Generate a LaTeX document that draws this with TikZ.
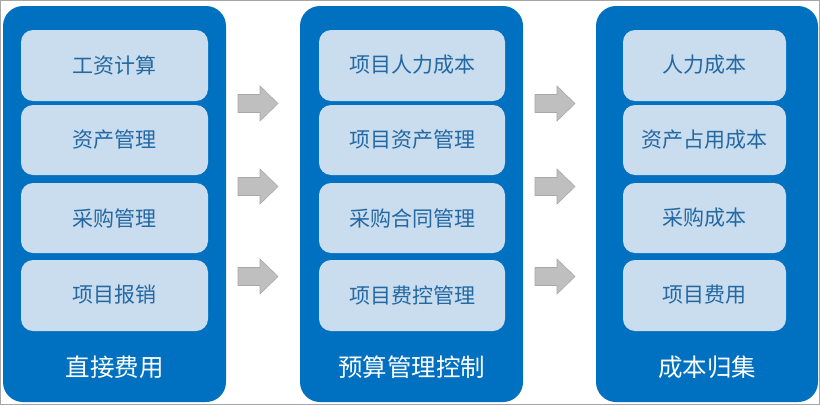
\documentclass[tikz,border=0pt]{standalone}
\usepackage{fontspec}
\setmainfont{Noto Sans CJK SC}
\begin{document}
\begin{tikzpicture}[x=1pt,y=-1pt,
  col/.style={fill=colblue,draw=none,rounded corners=20pt},
  item/.style={fill=itembg,draw=none,rounded corners=12pt},
  itemtext/.style={text=itemtxt,font=\fontsize{21}{23}\selectfont,inner sep=0pt},
  coltext/.style={text=white,font=\fontsize{24.5}{26}\selectfont,inner sep=0pt},
  blockarrow/.style={fill=arrowgray,draw=arrowedge,line width=0.6pt,line join=miter}]
\definecolor{colblue}{HTML}{0070C0}
\definecolor{itembg}{HTML}{CADDEE}
\definecolor{itemtxt}{HTML}{2368A2}
\definecolor{arrowgray}{HTML}{BFBFBF}
\definecolor{arrowedge}{HTML}{A8A8A8}
\useasboundingbox (0,0) rectangle (820,405);
\draw[draw=gray!70,line width=1pt] (0.5,0.5) rectangle (819.5,404.5);
% columns
\foreach \xl/\xr/\il/\ir/\n/\lab/\a/\b/\c/\d in {
  3/226/21/208/A/直接费用/工资计算/资产管理/采购管理/项目报销,
  300/523/319/505/B/预算管理控制/项目人力成本/项目资产管理/采购合同管理/项目费控管理,
  596/818/623/786/C/成本归集/人力成本/资产占用成本/采购成本/项目费用}{
  \path[col] (\xl,6) rectangle (\xr,402);
  \path[item] (\il,30) rectangle (\ir,101);
  \path[item] (\il,105) rectangle (\ir,175);
  \path[item] (\il,183) rectangle (\ir,253);
  \path[item] (\il,260) rectangle (\ir,331);
  \node[itemtext] (\n1) at ({(\il+\ir)/2},65) {\a};
  \node[itemtext] (\n2) at ({(\il+\ir)/2},140) {\b};
  \node[itemtext] (\n3) at ({(\il+\ir)/2},218) {\c};
  \node[itemtext] (\n4) at ({(\il+\ir)/2},295) {\d};
  \node[coltext] (\n0) at ({(\xl+\xr)/2},367) {\lab};
}
% block arrows
\foreach \x in {238,535}{
  \foreach \y in {103.5,186.5,276.5}{
    \draw[blockarrow] (\x,\y-9) -- (\x+22,\y-9) -- (\x+22,\y-17.5) -- (\x+40,\y)
      -- (\x+22,\y+17.5) -- (\x+22,\y+9) -- (\x,\y+9) -- cycle;
  }
}
\end{tikzpicture}
\end{document}
